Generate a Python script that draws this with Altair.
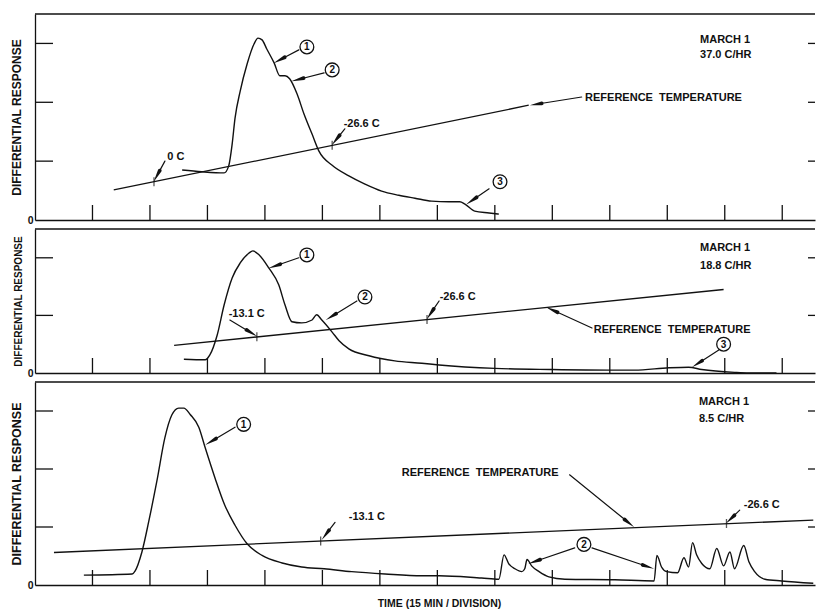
import math
import altair as alt
import pandas as pd

# ---------------- data (x in time divisions, y in response units) ----------------
X_TICKS = list(range(1, 14))

# Panel 1 : MARCH 1, 37.0 C/HR
P1_TIME = [2.56, 2.90, 3.29, 3.37, 3.43, 3.48, 3.57, 3.69, 3.81, 3.88, 3.95, 4.03, 4.16, 4.26,
           4.35, 4.43, 4.56, 4.68, 4.82, 4.94, 5.17, 5.46, 5.74, 6.03, 6.33, 6.61, 6.90, 7.20,
           7.39, 7.48, 7.65, 7.90, 8.07]
P1_RESP = [0.85, 0.82, 0.80, 0.92, 1.29, 1.73, 2.19, 2.65, 2.99, 3.09, 3.06, 2.91, 2.67, 2.45,
           2.45, 2.40, 2.14, 1.80, 1.46, 1.17, 0.93, 0.75, 0.61, 0.49, 0.42, 0.37, 0.32, 0.31,
           0.31, 0.27, 0.15, 0.12, 0.10]
P1_REF_TIME = [1.37, 8.59]
P1_REF_TEMP = [0.51, 1.95]
P1_MARK_TIME = [2.07, 5.17]
P1_MARK_TEMP = [0.65, 1.27]
P1_TEXT = ["0 C", "-26.6 C", "REFERENCE\u00a0 TEMPERATURE", "MARCH 1", "37.0 C/HR"]
P1_TEXT_X = [2.30, 5.37, 9.57, 11.57, 11.57]
P1_TEXT_Y = [1.07, 1.63, 2.07, 3.06, 2.80]
P1_CIRCLE = ["1", "2", "3"]
P1_CIRCLE_X = [4.73, 5.17, 8.09]
P1_CIRCLE_Y = [2.94, 2.55, 0.65]
P1_ARROW_X0 = [2.26, 5.39, 4.59, 5.03, 7.90, 9.51]
P1_ARROW_Y0 = [1.00, 1.55, 2.89, 2.50, 0.53, 2.09]
P1_ARROW_X1 = [2.07, 5.17, 4.16, 4.47, 7.51, 8.61]
P1_ARROW_Y1 = [0.66, 1.28, 2.67, 2.36, 0.27, 1.95]

# Panel 2 : MARCH 1, 18.8 C/HR
P2_TIME = [2.59, 2.96, 3.04, 3.17, 3.29, 3.43, 3.57, 3.72, 3.79, 3.90, 4.07, 4.24, 4.35, 4.47,
           4.64, 4.82, 4.90, 4.99, 5.17, 5.29, 5.46, 5.81, 6.26, 6.73, 7.03, 8.00, 9.00, 10.00,
           10.43, 11.03, 11.37, 11.60, 12.17, 12.42, 12.90]
P2_RESP = [0.24, 0.23, 0.31, 0.66, 1.18, 1.65, 1.91, 2.08, 2.12, 2.05, 1.82, 1.53, 1.18, 0.89,
           0.87, 0.92, 1.01, 0.92, 0.71, 0.56, 0.42, 0.30, 0.21, 0.17, 0.14, 0.08, 0.06, 0.05,
           0.05, 0.09, 0.10, 0.06, 0.01, 0.00, 0.00]
P2_REF_TIME = [2.42, 11.98]
P2_REF_TEMP = [0.48, 1.45]
P2_MARK_TIME = [3.86, 6.82]
P2_MARK_TEMP = [0.63, 0.93]
P2_TEXT = ["-13.1 C", "-26.6 C", "REFERENCE\u00a0 TEMPERATURE", "MARCH 1", "18.8 C/HR"]
P2_TEXT_X = [3.37, 7.04, 9.72, 11.57, 11.57]
P2_TEXT_Y = [1.02, 1.32, 0.75, 2.17, 1.86]
P2_CIRCLE = ["1", "2", "3"]
P2_CIRCLE_X = [4.73, 5.74, 11.98]
P2_CIRCLE_Y = [2.05, 1.32, 0.50]
P2_ARROW_X0 = [3.39, 7.03, 9.69, 4.59, 5.60, 11.93]
P2_ARROW_Y0 = [0.92, 1.25, 0.78, 2.00, 1.25, 0.42]
P2_ARROW_X1 = [3.86, 6.82, 8.90, 4.07, 5.06, 11.43]
P2_ARROW_Y1 = [0.64, 0.94, 1.14, 1.82, 0.92, 0.10]

# Panel 3 : MARCH 1, 8.5 C/HR
P3_TIME = [0.85, 1.69, 1.74, 1.86, 1.98, 2.12, 2.26, 2.38, 2.50, 2.59, 2.70, 2.85, 2.96, 3.13,
           3.30, 3.48, 3.69, 3.95, 4.30, 4.64, 5.03, 5.51, 6.09, 6.73, 7.03, 7.77, 8.07, 8.16,
           8.24, 8.35, 8.47, 8.52, 8.56, 8.64, 8.77, 8.94, 9.22, 10.09, 10.77, 10.82, 10.90,
           10.99, 11.18, 11.29, 11.37, 11.44, 11.51, 11.60, 11.74, 11.86, 11.98, 12.09, 12.17,
           12.33, 12.42, 12.52, 12.70, 12.99, 13.54]
P3_RESP = [0.17, 0.19, 0.24, 0.57, 1.10, 1.79, 2.54, 2.93, 3.05, 3.05, 2.94, 2.72, 2.37, 1.85,
           1.38, 1.03, 0.71, 0.51, 0.38, 0.31, 0.28, 0.23, 0.19, 0.16, 0.16, 0.12, 0.10, 0.52,
           0.37, 0.28, 0.23, 0.28, 0.44, 0.33, 0.23, 0.14, 0.10, 0.09, 0.07, 0.51, 0.31,
           0.23, 0.21, 0.47, 0.31, 0.73, 0.52, 0.37, 0.28, 0.63, 0.33, 0.57, 0.28,
           0.68, 0.40, 0.23, 0.10, 0.07, 0.03]
P3_REF_TIME = [0.33, 13.54]
P3_REF_TEMP = [0.56, 1.12]
P3_MARK_TIME = [4.97, 12.03]
P3_MARK_TEMP = [0.76, 1.06]
P3_TEXT = ["-13.1 C", "-26.6 C", "REFERENCE\u00a0 TEMPERATURE", "MARCH 1", "8.5 C/HR"]
P3_TEXT_X = [5.46, 12.33, 6.38, 11.55, 11.55]
P3_TEXT_Y = [1.17, 1.38, 1.93, 3.15, 2.87]
P3_CIRCLE = ["1", "2"]
P3_CIRCLE_X = [3.63, 9.55]
P3_CIRCLE_Y = [2.77, 0.70]
P3_ARROW_X0 = [5.22, 12.26, 9.30, 3.48, 9.39, 9.69]
P3_ARROW_Y0 = [1.08, 1.29, 1.90, 2.72, 0.64, 0.64]
P3_ARROW_X1 = [4.99, 12.03, 10.42, 2.97, 8.59, 10.77]
P3_ARROW_Y1 = [0.78, 1.07, 1.00, 2.42, 0.37, 0.28]

# ---------------- styling ----------------
W = 780
XMAX = 13.57
FONT = "Liberation Sans"
INK = "#111111"
TEXT_SIZE = 11


def arrow_frame(x0s, y0s, x1s, y1s, ymax, H):
    ppx = W / XMAX
    ppy = H / ymax
    rows = []
    for i, (x0, y0, x1, y1) in enumerate(zip(x0s, y0s, x1s, y1s)):
        L = math.hypot((x0 - x1) * ppx, (y0 - y1) * ppy)
        f = min(0.6, 12.0 / L)
        g = f + 0.6 / L
        rows.append(dict(id=i, o=0, x=x0, y=y0, s=1.2))
        rows.append(dict(id=i, o=1, x=x1 + (x0 - x1) * g, y=y1 + (y0 - y1) * g, s=1.2))
        rows.append(dict(id=i, o=2, x=x1 + (x0 - x1) * f, y=y1 + (y0 - y1) * f, s=3.8))
        rows.append(dict(id=i, o=3, x=x1, y=y1, s=0.2))
    return pd.DataFrame(rows)


def panel(curve_t, curve_r, ref_t, ref_r, mark_t, mark_r, texts, text_x, text_y,
          circ, circ_x, circ_y, ax0, ay0, ax1, ay1, ymax, H, ytitle_size, xtitle):
    xs = alt.Scale(domain=[0, XMAX], nice=False, zero=False)
    ys = alt.Scale(domain=[0, ymax], nice=False, zero=False)
    xkw = dict(domain=True, domainColor=INK, domainWidth=1.3, ticks=False, labels=False,
               grid=False)
    if xtitle:
        xkw.update(title=xtitle, titleFont=FONT, titleFontSize=10.5, titleFontWeight="bold",
                   titleColor=INK, titleX=404, titleY=18, titleAlign="center",
                   titleBaseline="middle")
    else:
        xkw.update(title=None)
    xaxis = alt.Axis(**xkw)
    yaxis = alt.Axis(values=[0], domain=True, domainColor=INK, domainWidth=1.3, ticks=False,
                     grid=False, labelFont=FONT, labelFontSize=10.5, labelFontWeight="bold",
                     labelColor=INK, labelPadding=2, title="DIFFERENTIAL RESPONSE",
                     titleFont=FONT, titleFontSize=ytitle_size, titleFontWeight="bold",
                     titleColor=INK, titlePadding=4)

    def X():
        return alt.X("x:Q", scale=xs, axis=xaxis)

    def Y():
        return alt.Y("y:Q", scale=ys, axis=yaxis)

    curve = alt.Chart(pd.DataFrame({"x": curve_t, "y": curve_r})).mark_line(
        color=INK, strokeWidth=1.4, interpolate="monotone").encode(x=X(), y=Y())
    ref = alt.Chart(pd.DataFrame({"x": ref_t, "y": ref_r})).mark_line(
        color=INK, strokeWidth=1.3).encode(x=X(), y=Y())
    marks = alt.Chart(pd.DataFrame({"x": mark_t, "y": mark_r})).mark_tick(
        color=INK, orient="vertical", size=9, thickness=1.3).encode(x=X(), y=Y())
    xt = alt.Chart(pd.DataFrame({"x": X_TICKS})).mark_rule(
        color=INK, strokeWidth=1.3).encode(x=X(), y=alt.value(H), y2=alt.value(H - 15))
    yvals = list(range(1, int(ymax) + 1))
    ytl = alt.Chart(pd.DataFrame({"y": yvals})).mark_rule(
        color=INK, strokeWidth=1.3).encode(y=Y(), x=alt.value(0), x2=alt.value(18))
    ytr = alt.Chart(pd.DataFrame({"y": yvals})).mark_rule(
        color=INK, strokeWidth=1.3).encode(y=Y(), x=alt.value(W - 7), x2=alt.value(W))
    top = alt.Chart(pd.DataFrame({"k": [0]})).mark_rule(
        color=INK, strokeWidth=1.3).encode(x=alt.value(0), x2=alt.value(W), y=alt.value(0))
    arrows = alt.Chart(arrow_frame(ax0, ay0, ax1, ay1, ymax, H)).mark_trail(
        color=INK).encode(x=X(), y=Y(), size=alt.Size("s:Q", scale=None, legend=None),
                          detail="id:N", order="o:Q")
    cdf = pd.DataFrame({"x": circ_x, "y": circ_y, "t": circ})
    circles = alt.Chart(cdf).mark_point(
        shape="circle", size=190, filled=True, fill="white", stroke=INK, strokeWidth=1.3,
        opacity=1).encode(x=X(), y=Y())
    cnums = alt.Chart(cdf).mark_text(
        font=FONT, fontSize=10, fontWeight="bold", color=INK, align="center",
        baseline="middle", dy=0.5).encode(x=X(), y=Y(), text="t:N")
    tdf = pd.DataFrame({"x": text_x, "y": text_y, "t": texts})
    labels = alt.Chart(tdf).mark_text(
        font=FONT, fontSize=TEXT_SIZE, fontWeight="bold", color=INK, align="left",
        baseline="middle").encode(x=X(), y=Y(), text="t:N")
    return alt.layer(curve, ref, marks, xt, ytl, ytr, top, arrows, circles, cnums,
                     labels).properties(width=W, height=H)


p1 = panel(P1_TIME, P1_RESP, P1_REF_TIME, P1_REF_TEMP, P1_MARK_TIME, P1_MARK_TEMP,
           P1_TEXT, P1_TEXT_X, P1_TEXT_Y, P1_CIRCLE, P1_CIRCLE_X, P1_CIRCLE_Y,
           P1_ARROW_X0, P1_ARROW_Y0, P1_ARROW_X1, P1_ARROW_Y1, 3.5, 206, 12, None)
p2 = panel(P2_TIME, P2_RESP, P2_REF_TIME, P2_REF_TEMP, P2_MARK_TIME, P2_MARK_TEMP,
           P2_TEXT, P2_TEXT_X, P2_TEXT_Y, P2_CIRCLE, P2_CIRCLE_X, P2_CIRCLE_Y,
           P2_ARROW_X0, P2_ARROW_Y0, P2_ARROW_X1, P2_ARROW_Y1, 2.5, 144, 10, None)
p3 = panel(P3_TIME, P3_RESP, P3_REF_TIME, P3_REF_TEMP, P3_MARK_TIME, P3_MARK_TEMP,
           P3_TEXT, P3_TEXT_X, P3_TEXT_Y, P3_CIRCLE, P3_CIRCLE_X, P3_CIRCLE_Y,
           P3_ARROW_X0, P3_ARROW_Y0, P3_ARROW_X1, P3_ARROW_Y1, 3.5, 203, 12.5,
           "TIME  (15 MIN / DIVISION)")

chart = alt.vconcat(p1, p2, p3, spacing=2).resolve_scale(
    x="independent", y="independent").properties(
    padding={"left": 2, "top": 5, "right": 0, "bottom": 0},
    background="white").configure_view(strokeWidth=0)

chart.save("out.html", embed_options={"renderer": "svg", "actions": False})
